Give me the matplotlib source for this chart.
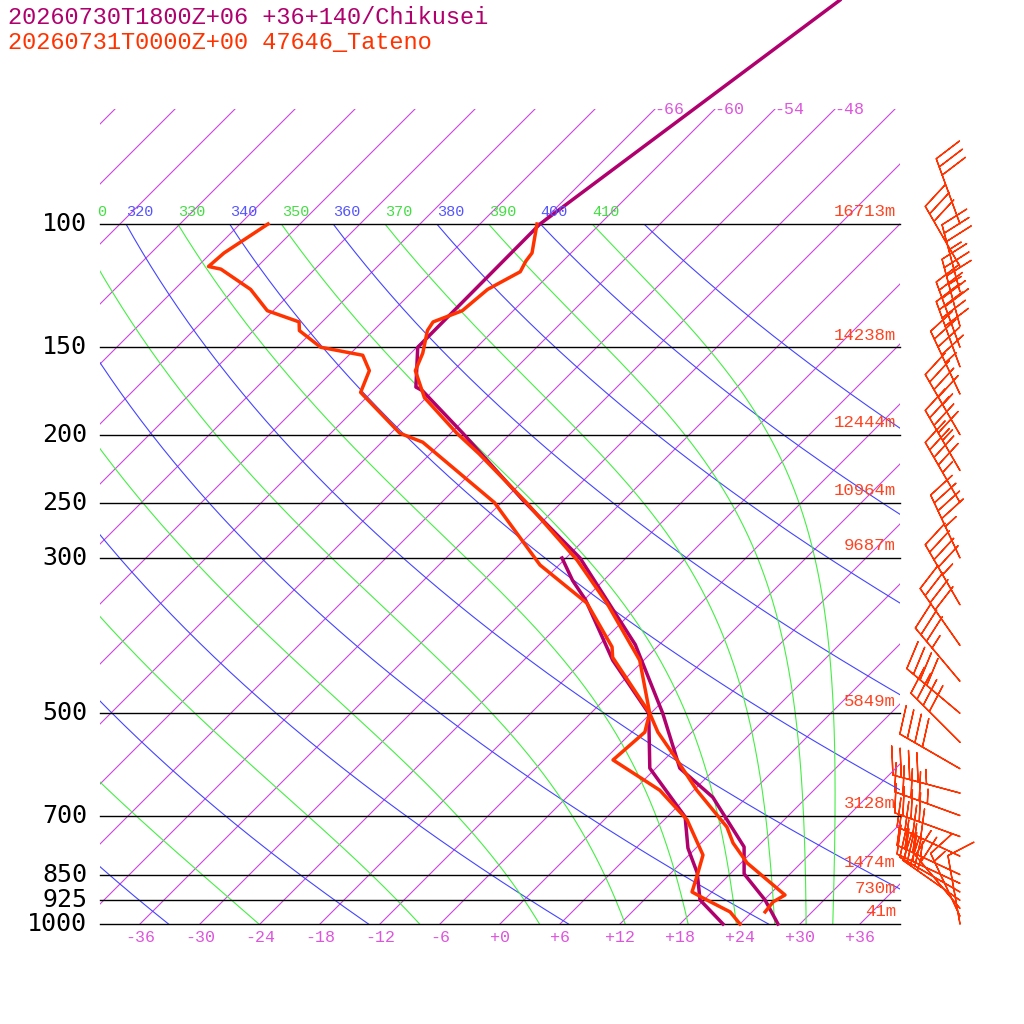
import numpy as np
import matplotlib
matplotlib.use("Agg")
import matplotlib.pyplot as plt
from matplotlib.patches import Rectangle

# Chikusei profile (purple)
chk_p = [1000, 924, 848, 776, 659, 599, 500, 399, 300, 248, 199, 173, 171, 150, 100, 47.9]
chk_t = [27.8, 24.1, 19.4, 16.7, 8.6, 2.4, -4.8, -14.4, -28.6, -40.1, -52.8, -61.1, -62.1, -65.9, -66.0, -58.4]
chk_td_p = [1000, 924, 845, 779, 703, 599, 500, 420, 344, 323, 300]
chk_td = [22.3, 17.6, 14.6, 11.2, 7.8, -0.6, -6.2, -15.1, -23.9, -27.1, -30.4]

# Tateno profile (red)
tat_p = [961, 930, 909, 818, 766, 727, 644, 583, 532, 500, 420, 397, 348, 302, 250, 213, 199,
         177, 162, 153, 142, 138, 133, 124, 117, 113, 110, 100]
tat_t = [25.3, 25.1, 25.6, 18.6, 15.2, 13.0, 6.3, 1.3, -3.4, -6.1, -12.4, -15.1, -21.4, -28.7,
         -39.5, -49.1, -53.4, -60.2, -63.8, -64.8, -66.6, -66.9, -65.1, -64.7, -63.2, -63.7, -63.9, -66.3]
tat_td_p = [1000, 961, 918, 900, 846, 797, 710, 644, 583, 532, 516, 500, 416, 402, 348, 307, 250,
            205, 199, 174, 162, 154, 150, 142, 138, 133, 124, 116, 115, 110, 100]
tat_td = [24.0, 21.8, 17.7, 16.0, 14.7, 13.4, 8.3, 2.6, -5.1, -4.7, -5.4, -6.1, -15.4, -16.5, -23.4,
          -31.9, -42.7, -55.9, -59.1, -67.1, -68.4, -70.6, -75.6, -79.4, -80.3, -84.6, -88.4, -93.4,
          -94.9, -94.7, -93.2]

# Tateno winds
wind_p = [1000, 975, 950, 925, 900, 875, 850, 800, 750, 700, 650, 600, 550, 500, 450, 400, 350, 300,
          250, 225, 200, 175, 160, 150, 140, 125, 115, 100]
wind_dir = [350, 335, 320, 305, 300, 295, 295, 295, 290, 290, 285, 300, 315, 310, 320, 325, 330, 335,
            330, 330, 330, 335, 340, 340, 345, 345, 330, 340]
wind_spd = [10, 15, 20, 25, 30, 30, 35, 40, 40, 45, 45, 40, 40, 40, 35, 40, 45, 45,
            45, 45, 45, 45, 40, 40, 35, 35, 30, 30]

levels = [100, 150, 200, 250, 300, 500, 700, 850, 925, 1000]
heights = ["16713m", "14238m", "12444m", "10964m", "9687m", "5849m", "3128m", "1474m", "730m", "41m"]

C_PURPLE = "#b0006e"
C_RED = "#ff3300"
C_ISO = "#cc44dd"
C_LBL = "#dd55dd"
MONO = "Liberation Mono"


def skx(t, p):
    return np.asarray(t) + 70.0 * np.log10(1000.0 / np.asarray(p))


def moist(theta, p):
    # pseudo-adiabat started at 100 hPa with given theta
    Rd, cp, Lv, eps = 287.0, 1005.0, 2.5e6, 0.622
    T = theta * (100 / 1000.0) ** 0.2857
    out = [T]
    for i in range(1, len(p)):
        pc = p[i - 1]
        tc = T - 273.15
        es = 6.112 * np.exp(17.67 * tc / (tc + 243.5))
        rs = eps * es / (pc - es)
        dtdp = (Rd * T + Lv * rs) / (pc * (cp + Lv * Lv * rs * eps / (Rd * T * T)))
        T = T + dtdp * (p[i] - pc)
        out.append(T)
    return np.array(out) - 273.15


fig = plt.figure(figsize=(10.24, 10.24), dpi=100)
ax = fig.add_axes([0, 0, 1, 1])
ax.set_yscale("log")
ax.set_xlim(-50, 52.4)
ax.set_ylim(1000 * 10 ** (100 / 700), 1000 / 10 ** (924 / 700))
ax.axis("off")

box_iso = Rectangle((-40, 1000), 80, 68.5 - 1000, transform=ax.transData, fill=False, lw=0)
box_ad = Rectangle((-40, 1000), 80, 100 - 1000, transform=ax.transData, fill=False, lw=0)
for b in (box_iso, box_ad):
    ax.add_patch(b)

pp = np.logspace(np.log10(1000), np.log10(60), 200)
for t in range(-150, 40, 6):
    ln, = ax.plot(skx(np.full_like(pp, t), pp), pp, color=C_ISO, lw=0.8)
    ln.set_clip_path(box_iso)

p_lbl = 1000 / 10 ** (712 / 700)
pa = np.logspace(np.log10(100), np.log10(1000), 300)
for th in range(220, 421, 20):
    tt = th * (pa / 1000.0) ** 0.2857 - 273.15
    ln, = ax.plot(skx(tt, pa), pa, color="#4444ff", lw=0.8)
    ln.set_clip_path(box_ad)
    x100 = skx(tt[0], 100)
    if -41 < x100 < 35 and th <= 410:
        ax.text(x100 + 1.4, p_lbl, str(th), color="#5555ff", fontsize=11, family=MONO,
                ha="center", va="center")
for th in range(230, 421, 20):
    tt = moist(th, pa)
    ln, = ax.plot(skx(tt, pa), pa, color="#44ee44", lw=0.8)
    ln.set_clip_path(box_ad)
    x100 = skx(tt[0], 100)
    if -40 < x100 < 35 and th <= 410:
        ax.text(x100 + 1.4, p_lbl, str(th), color="#44dd44", fontsize=11, family=MONO,
                ha="center", va="center")
ax.text(-39.8, p_lbl, "0", color="#44dd44", fontsize=11, family=MONO, ha="center", va="center")

for lev, h in zip(levels, heights):
    ax.plot([-40, 40], [lev, lev], color="black", lw=1)
    ax.text(-41.3, lev, str(lev), fontsize=18, family="DejaVu Sans Mono", ha="right", va="center")
    ax.text(39.6, lev * 0.985, h, fontsize=12.5, color="#ff4422", family=MONO, ha="right", va="bottom")

for t in range(-36, 37, 6):
    lab = ("+%d" % t) if t >= 0 else "%d" % t
    ax.text(t, 1000 * 10 ** (13 / 700), lab, color=C_LBL, fontsize=12, family=MONO,
            ha="center", va="center")
for t in [-66, -60, -54, -48]:
    ax.text(skx(t, 68.7) + 1.5, 68.7, "%d" % t, color=C_LBL, fontsize=12, family=MONO,
            ha="center", va="center")

ax.plot(skx(chk_t, chk_p), chk_p, color=C_PURPLE, lw=2.5)
ax.plot(skx(chk_td, chk_td_p), chk_td_p, color=C_PURPLE, lw=2.5)
ax.plot(skx(tat_t, tat_p), tat_p, color=C_RED, lw=2.5)
ax.plot(skx(tat_td, tat_td_p), tat_td_p, color=C_RED, lw=2.5)

wd = np.radians(wind_dir)
u = -np.array(wind_spd) * np.sin(wd)
v = -np.array(wind_spd) * np.cos(wd)
ax.barbs(np.full(len(wind_p), 46.0), wind_p, u, v, length=10, color=C_RED, lw=1)

fig.text(8 / 1024, 1 - 18 / 1024, "20260730T1800Z+06 +36+140/Chikusei", color=C_PURPLE,
         fontsize=17, family=MONO, va="center")
fig.text(8 / 1024, 1 - 42 / 1024, "20260731T0000Z+00 47646_Tateno", color=C_RED,
         fontsize=17, family=MONO, va="center")

fig.savefig("out.png", dpi=100)
